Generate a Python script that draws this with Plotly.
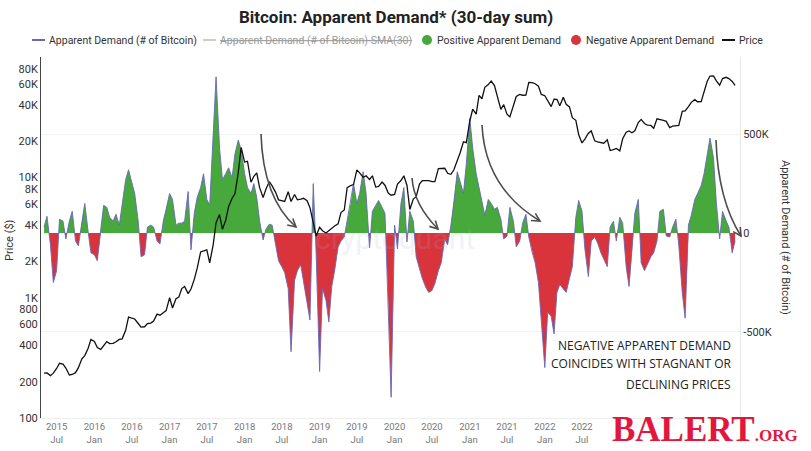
import math
import pandas as pd
import plotly.graph_objects as go

# ---------------- data (semi-monthly samples) ----------------
dates = pd.date_range("2015-05-01", "2024-07-15", freq="SMS")

price_usd = [
    236, 237, 225, 236, 258, 285, 281, 260, 228, 230, 238, 262, 310, 330, 378, 450,
    432, 385, 372, 400, 432, 415, 417, 430, 450, 455, 535, 690, 675, 665, 610, 570, 573, 608, 615, 640, 730, 715, 750, 780,
    1000, 820, 980, 1010, 1190, 1240, 1080, 1180, 1420, 1750, 2400, 2450, 2500, 1950, 2750, 4200, 4900, 3700, 4400, 5700, 6700, 7300, 10900, 17700,
    13400, 13600, 9100, 10200, 10900, 8200, 6800, 8000, 9200, 8500, 7500, 6500, 6400, 6300, 7600, 6300, 7200, 6500, 6600, 6700, 6400, 5600, 4200, 3250,
    3850, 3600, 3450, 3600, 3820, 3940, 4100, 5100, 5350, 8200, 8550, 8700, 11500, 10900, 10000, 10300, 9600, 10300, 8300, 8400, 9150, 8600, 7400, 7100,
    7200, 8800, 9400, 10300, 8600, 5400, 6600, 6900, 8800, 9400, 9400, 9400, 9200, 9200, 11800, 11800, 11900, 10800, 10600, 11500, 13700, 16000, 19700, 19400,
    29400, 36800, 33500, 48000, 45000, 56000, 59000, 63000, 57800, 46500, 36700, 40200, 33500, 31800, 39800, 47000, 48800, 48100, 48200, 61500, 61300, 60000, 57200, 48900,
    47700, 43100, 38700, 44600, 44400, 39300, 46300, 40500, 38500, 31300, 29800, 22600, 19300, 20800, 23300, 24300, 20100, 19700, 19300, 19200, 20500, 16700, 17000, 17400,
    16600, 20900, 23700, 24300, 23500, 24400, 28500, 30300, 28000, 27200, 27000, 25600, 30600, 30300, 29700, 29200, 25900, 26600, 27000, 27000, 35400, 35600, 38700, 42000,
    44200, 42500, 42600, 52000, 62500, 69500, 69700, 63400, 58300, 66200, 67800, 66200, 62700, 58000,
]

# apparent demand, thousands of BTC (30-day sum)
demand_k = [
    30, 85, -60, -250, -190, 70, 60, -30, 60, 110, -40, -65, 60, 150, 10, -100,
    -110, -140, 20, 140, 130, 80, 60, 95, 40, 150, 270, 320, 260, 200, 60, -120, -110, 30, 40, 30, -40, -55, 60, 120,
    200, 170, 40, 50, 50, 60, 210, -85, 100, 180, 230, 300, 170, 140, 500, 790, 430, 270, 300, 330, 280, 400, 470, 420,
    300, 230, 200, 250, 180, 60, -35, 20, 45, 40, -60, -140, -170, -200, -280, -600, -240, -190, -160, -250, -350, -440, 250, -100,
    -700, -280, -340, -450, -270, -190, -70, -40, -20, 60, 150, 250, 150, 200, 310, 200, -75, 110, 140, 165, 130, 100, -350, -830,
    40, -80, 150, 230, -45, 110, 60, -120, -180, -230, -275, -300, -290, -255, -190, -150, -30, -60, 40, 150, 310, 260, 200, 350,
    580, 430, 300, 230, 150, 90, 170, 150, 120, 130, 70, -30, -15, 130, 60, -70, -40, 50, 95, -20, -100, -150, -250, -430,
    -680, -400, -420, -510, -300, -260, -280, -300, -230, -170, 80, 165, 110, -80, -220, -40, -20, -50, -100, -130, -170, 30, 60, -40,
    80, 50, -170, -270, -100, 100, 170, -150, -190, -160, -120, -100, -40, 110, 120, -15, -20, 30, 70, -60, -300, -430, 40, 90,
    170, 200, 240, 300, 400, 480, 380, 150, -30, 110, 60, 30, -100, -40,
]

tick_dates = pd.date_range("2015-07-01", "2024-07-01", freq="6MS")
# labels from 2023 on are hidden under the site watermark in the reference
tick_text = [f"{d.year}<br>{'Jan' if d.month == 1 else 'Jul'}" if d.year < 2023 else "" for d in tick_dates]

price_ticks = [100, 200, 400, 600, 800, 1000, 2000, 4000, 6000, 8000, 10000, 20000, 40000, 60000, 80000]
price_tick_text = ["100", "200", "400", "600", "800", "1K", "2K", "4K", "6K", "8K", "10K", "20K", "40K", "60K", "80K"]
demand_ticks = [-500000, 0, 500000]
demand_tick_text = ["-500K", "0", "500K"]

GREEN = "#47a83c"
RED = "#d9343c"
LINE = "#6868b8"

# ---------------- split demand into positive / negative fills ----------------
demand = [v * 1000 for v in demand_k]
xd, yd = [], []
for i, (x, v) in enumerate(zip(dates, demand)):
    if i > 0 and demand[i - 1] * v < 0:
        f = demand[i - 1] / (demand[i - 1] - v)
        xd.append(dates[i - 1] + (x - dates[i - 1]) * f)
        yd.append(0)
    xd.append(x)
    yd.append(v)
pos = [max(v, 0) for v in yd]
neg = [min(v, 0) for v in yd]

fig = go.Figure()
fig.add_trace(go.Scatter(x=xd, y=pos, mode="lines", line=dict(width=0, color=GREEN),
                         fill="tozeroy", fillcolor=GREEN, showlegend=False, yaxis="y"))
fig.add_trace(go.Scatter(x=xd, y=neg, mode="lines", line=dict(width=0, color=RED),
                         fill="tozeroy", fillcolor=RED, showlegend=False, yaxis="y"))
fig.add_trace(go.Scatter(x=xd, y=yd, mode="lines", line=dict(width=0.9, color=LINE),
                         name="Apparent Demand (# of Bitcoin)", showlegend=False, yaxis="y"))
fig.add_trace(go.Scatter(x=dates, y=price_usd, mode="lines", line=dict(width=1.3, color="#111111"),
                         name="Price", showlegend=False, yaxis="y2"))

# ---------------- layout helpers (pixel -> paper) ----------------
L, R, T, B = 41, 740, 57, 418
W, H = 811, 451


def px(x):
    return (x - L) / (R - L)


def py(y):
    return (B - y) / (B - T)


shapes = []
annotations = []

# legend (manual, one row)
LEG_Y = 40


def leg_line(x0, x1, color):
    shapes.append(dict(type="line", xref="paper", yref="paper", x0=px(x0), x1=px(x1),
                       y0=py(LEG_Y), y1=py(LEG_Y), line=dict(color=color, width=2)))


def leg_dot(cx, color):
    r = 5
    shapes.append(dict(type="circle", xref="paper", yref="paper", x0=px(cx - r), x1=px(cx + r),
                       y0=py(LEG_Y + r), y1=py(LEG_Y - r), fillcolor=color, line=dict(width=0)))


def leg_text(x, text, color="#333333"):
    annotations.append(dict(xref="paper", yref="paper", x=px(x), y=py(LEG_Y), text=text,
                            showarrow=False, xanchor="left", yanchor="middle",
                            font=dict(family="Roboto", size=10.5, color=color)))


leg_line(32, 45, LINE)
leg_text(47, "Apparent Demand (# of Bitcoin)")
leg_line(203, 216, "#cccccc")
leg_text(218, "<s>Apparent Demand (# of Bitcoin)-SMA(30)</s>", "#9a9a9a")
leg_dot(427, GREEN)
leg_text(435, "Positive Apparent Demand")
leg_dot(576, RED)
leg_text(584, "Negative Apparent Demand")
leg_line(722, 735, "#111111")
leg_text(737, "Price")


# curved arrows
def arrow(p0, c, p1, color="#4d4d4d"):
    path = "M {},{} Q {},{} {},{}".format(px(p0[0]), py(p0[1]), px(c[0]), py(c[1]), px(p1[0]), py(p1[1]))
    shapes.append(dict(type="path", xref="paper", yref="paper", path=path,
                       line=dict(color=color, width=1.6)))
    dx, dy = p1[0] - c[0], p1[1] - c[1]
    n = math.hypot(dx, dy)
    dx, dy = dx / n, dy / n
    hl = 9
    pts = []
    for ang in (math.radians(28), math.radians(-28)):
        rx = dx * math.cos(ang) - dy * math.sin(ang)
        ry = dx * math.sin(ang) + dy * math.cos(ang)
        pts.append((p1[0] - hl * rx, p1[1] - hl * ry))
    hp = "M {},{} L {},{} L {},{}".format(px(pts[0][0]), py(pts[0][1]), px(p1[0]), py(p1[1]),
                                         px(pts[1][0]), py(pts[1][1]))
    shapes.append(dict(type="path", xref="paper", yref="paper", path=hp,
                       line=dict(color=color, width=1.6)))


arrow((261, 134), (263, 198), (296, 227))
arrow((412, 178), (414, 205), (438, 229))
arrow((482, 125), (485, 188), (540, 221))
arrow((716, 140), (718, 200), (741, 236))

# commentary text
note_font = dict(family="Open Sans", size=12, color="#222222")
for yy, txt in [(345, "NEGATIVE APPARENT DEMAND"), (363, "COINCIDES WITH STAGNANT OR"),
                (384, "DECLINING PRICES")]:
    annotations.append(dict(xref="paper", yref="paper", x=px(733), y=py(yy), text=txt,
                            showarrow=False, xanchor="right", yanchor="middle", font=note_font))

# faint source watermark
annotations.append(dict(xref="paper", yref="paper", x=px(395), y=py(238), text="cryptoquant",
                        showarrow=False, xanchor="center", yanchor="middle",
                        font=dict(family="Roboto", size=30, color="rgba(170,175,200,0.18)")))

# axis titles
annotations.append(dict(xref="paper", yref="paper", x=px(9), y=py(240), text="Price ($)",
                        showarrow=False, textangle=-90, xanchor="center", yanchor="middle",
                        font=dict(family="Roboto", size=11, color="#333333")))
annotations.append(dict(xref="paper", yref="paper", x=px(786), y=py(237), text="Apparent Demand (# of Bitcoin)",
                        showarrow=False, textangle=90, xanchor="center", yanchor="middle",
                        font=dict(family="Roboto", size=11, color="#333333")))

# site watermark (bottom right)
annotations.append(dict(xref="paper", yref="paper", x=px(611), y=py(450),
                        text="<b>BALERT</b><span style='font-size:17px'><b>.ORG</b></span>",
                        showarrow=False, xanchor="left", yanchor="bottom",
                        borderpad=0,
                        font=dict(family="Liberation Serif", size=35, color="#e3173c")))

fig.update_layout(
    width=W, height=H,
    margin=dict(l=L, r=W - R, t=T, b=H - B, autoexpand=False),
    paper_bgcolor="#ffffff", plot_bgcolor="#ffffff",
    title=dict(text="<b>Bitcoin: Apparent Demand* (30-day sum)</b>", x=396 / W, xanchor="center",
               y=1 - 17 / H, yanchor="middle", xref="container", yref="container",
               font=dict(family="Roboto", size=17, color="#222222")),
    showlegend=False,
    xaxis=dict(type="date", range=["2015-04-16", "2024-08-08"], tickvals=list(tick_dates), ticktext=tick_text,
               tickfont=dict(family="Roboto", size=9.5, color="#777777"), showgrid=False, zeroline=False,
               showline=True, linecolor="#eeeeee", ticks="", automargin=False),
    yaxis=dict(side="right", range=[-935000, 890000], tickvals=demand_ticks, ticktext=demand_tick_text,
               tickfont=dict(family="Roboto", size=11, color="#333333"), showgrid=True, gridcolor="#f2f2f2",
               zeroline=False, showline=True, linecolor="#e8e8e8", ticks="", automargin=False),
    yaxis2=dict(overlaying="y", side="left", type="log", range=[2, 5.0], tickvals=price_ticks,
                ticktext=price_tick_text, tickfont=dict(family="Roboto", size=11, color="#333333"),
                showgrid=False, zeroline=False, showline=True, linecolor="#444444", linewidth=1, ticks="",
                automargin=False),
    shapes=shapes,
    annotations=annotations,
)

fig.write_html("out.html", config={"displayModeBar": False},
               post_script="document.body.style.margin='0px';")
